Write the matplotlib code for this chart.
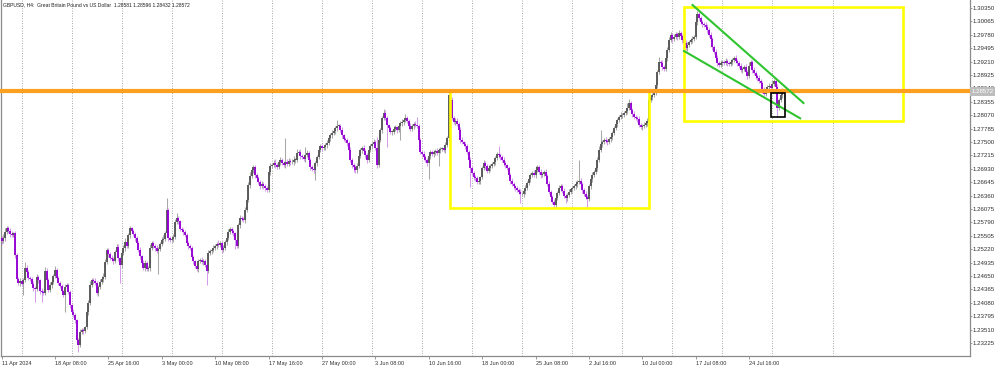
import matplotlib
matplotlib.use("Agg")
import matplotlib.pyplot as plt
from matplotlib.patches import Rectangle
import numpy as np

plt.rcParams['font.family'] = ['Liberation Sans', 'DejaVu Sans']

# ---------------- data (GBPUSD H4 closes) ----------------
first_open = 1.2545
close = [
 1.2539,1.2546, 1.2559,1.2567, 1.2561,1.2554, 1.2552,1.2556, 1.2510,1.2459,
 1.2450,1.2454, 1.2448,1.2456, 1.2482,1.2473, 1.2461,1.2459, 1.2448,1.2439,
 1.2437,1.2463, 1.2456,1.2433, 1.2431,1.2429, 1.2476,1.2456, 1.2435,1.2446,
 1.2452,1.2465, 1.2478,1.2461, 1.2450,1.2444, 1.2433,1.2425, 1.2442,1.2446,
 1.2431,1.2403, 1.2388,1.2382, 1.2371,1.2329, 1.2318,1.2346, 1.2350,1.2348,
 1.2356,1.2388, 1.2408,1.2446, 1.2456,1.2454, 1.2450,1.2429, 1.2442,1.2452,
 1.2459,1.2463, 1.2495,1.2520, 1.2512,1.2503, 1.2501,1.2497, 1.2516,1.2527,
 1.2503,1.2488, 1.2514,1.2525, 1.2537,1.2529, 1.2552,1.2567, 1.2561,1.2554,
 1.2546,1.2535, 1.2520,1.2507, 1.2493,1.2482, 1.2493,1.2480, 1.2482,1.2525,
 1.2535,1.2529, 1.2525,1.2518, 1.2522,1.2533, 1.2542,1.2544, 1.2556,1.2605,
 1.2546,1.2542, 1.2544,1.2548, 1.2580,1.2588, 1.2582,1.2565, 1.2563,1.2559,
 1.2552,1.2535, 1.2529,1.2525, 1.2505,1.2497, 1.2486,1.2480, 1.2497,1.2499,
 1.2495,1.2497, 1.2488,1.2476, 1.2514,1.2518, 1.2520,1.2525, 1.2529,1.2533,
 1.2531,1.2535, 1.2520,1.2525, 1.2537,1.2546, 1.2559,1.2565, 1.2561,1.2556,
 1.2542,1.2529, 1.2573,1.2588, 1.2586,1.2584, 1.2605,1.2627, 1.2659,1.2678,
 1.2690,1.2697, 1.2680,1.2673, 1.2665,1.2656, 1.2661,1.2656, 1.2652,1.2648,
 1.2686,1.2699, 1.2701,1.2705, 1.2701,1.2697, 1.2707,1.2712, 1.2705,1.2701,
 1.2707,1.2703, 1.2710,1.2707, 1.2707,1.2712, 1.2712,1.2727, 1.2729,1.2720,
 1.2718,1.2714, 1.2722,1.2727, 1.2712,1.2697, 1.2693,1.2690, 1.2705,1.2718,
 1.2733,1.2741, 1.2737,1.2739, 1.2744,1.2748, 1.2758,1.2765, 1.2769,1.2773,
 1.2780,1.2784, 1.2784,1.2776, 1.2765,1.2756, 1.2754,1.2748, 1.2733,1.2712,
 1.2701,1.2697, 1.2690,1.2699, 1.2720,1.2733, 1.2737,1.2731, 1.2722,1.2712,
 1.2733,1.2741, 1.2746,1.2750, 1.2737,1.2701, 1.2754,1.2776, 1.2801,1.2812,
 1.2801,1.2786, 1.2780,1.2771, 1.2771,1.2778, 1.2782,1.2776, 1.2784,1.2790,
 1.2793,1.2797, 1.2801,1.2795, 1.2784,1.2778, 1.2784,1.2788, 1.2786,1.2784,
 1.2754,1.2729, 1.2724,1.2718, 1.2712,1.2705, 1.2720,1.2729, 1.2724,1.2729,
 1.2731,1.2727, 1.2733,1.2735, 1.2737,1.2733, 1.2744,1.2758, 1.2850,1.2839,
 1.2801,1.2793, 1.2795,1.2788, 1.2776,1.2754, 1.2750,1.2746, 1.2741,1.2729,
 1.2712,1.2695, 1.2684,1.2675, 1.2673,1.2665, 1.2667,1.2675, 1.2695,1.2705,
 1.2699,1.2688, 1.2695,1.2699, 1.2703,1.2707, 1.2716,1.2724, 1.2722,1.2718,
 1.2712,1.2705, 1.2701,1.2695, 1.2680,1.2667, 1.2661,1.2656, 1.2652,1.2648,
 1.2644,1.2639, 1.2639,1.2646, 1.2652,1.2663, 1.2671,1.2680, 1.2684,1.2680,
 1.2690,1.2697, 1.2686,1.2680, 1.2682,1.2686, 1.2678,1.2661, 1.2644,1.2633,
 1.2622,1.2616, 1.2631,1.2642, 1.2652,1.2656, 1.2646,1.2635, 1.2631,1.2637,
 1.2644,1.2650, 1.2652,1.2656, 1.2661,1.2665, 1.2667,1.2661, 1.2648,1.2639,
 1.2633,1.2629, 1.2656,1.2671, 1.2680,1.2686, 1.2695,1.2712, 1.2733,1.2746,
 1.2750,1.2754, 1.2752,1.2750, 1.2756,1.2761, 1.2769,1.2780, 1.2788,1.2797,
 1.2803,1.2807, 1.2807,1.2812, 1.2816,1.2822, 1.2833,1.2818, 1.2810,1.2803,
 1.2801,1.2799, 1.2786,1.2782, 1.2784,1.2786, 1.2790,1.2795, 1.2839,1.2846,
 1.2850,1.2854, 1.2871,1.2899, 1.2920,1.2918, 1.2909,1.2905, 1.2929,1.2946,
 1.2967,1.2978, 1.2969,1.2973, 1.2980,1.2973, 1.2982,1.2975, 1.2967,1.2961,
 1.2950,1.2956, 1.2963,1.2967, 1.2969,1.2973, 1.3005,1.3022, 1.3014,1.3005,
 1.3001,1.2999, 1.2995,1.2988, 1.2978,1.2969, 1.2952,1.2941, 1.2929,1.2918,
 1.2914,1.2918, 1.2920,1.2918, 1.2922,1.2918, 1.2916,1.2920, 1.2924,1.2929,
 1.2922,1.2918, 1.2912,1.2903, 1.2905,1.2909, 1.2899,1.2890, 1.2912,1.2920,
 1.2903,1.2897, 1.2890,1.2886, 1.2880,1.2875, 1.2861,1.2852, 1.2863,1.2867,
 1.2869,1.2865, 1.2873,1.2880, 1.2867,1.2822, 1.2839,1.2850, 1.2858,1.2857,
]

# wick lengths beyond the body, in pips (0.0001)
wick_up = [
 6,8, 9,5, 4,6, 7,3, 5,4, 3,6, 5,4, 12,6, 4,5, 3,7,
 4,6, 5,3, 6,4, 8,5, 4,6, 7,5, 9,4, 3,5, 4,3, 6,5,
 5,4, 3,6, 4,3, 5,6, 4,5, 3,4, 6,8, 5,4, 7,5, 4,6,
 5,8, 6,4, 5,3, 7,4, 4,6, 5,3, 6,5, 9,6, 4,5, 3,4,
 5,3, 4,6, 3,5, 6,4, 4,7, 5,4, 3,6, 5,4, 6,8, 5,25,
 4,5, 3,6, 7,12, 5,3, 4,5, 3,4, 5,3, 4,5, 3,6, 5,4,
 6,4, 5,3, 7,5, 4,6, 3,5, 8,4, 5,6, 4,7, 6,5, 5,4,
 3,6, 5,7, 4,5, 6,4, 5,8, 6,5, 4,3, 5,4, 6,3, 4,5,
 5,7, 4,6, 8,4, 5,6, 4,5, 51,6, 5,4, 6,8, 5,9, 4,6,
 5,4, 17,5, 4,3, 5,6, 4,5, 6,4, 5,3, 4,6, 5,4, 6,5,
 4,13, 5,4, 6,3, 4,5, 5,6, 3,4, 5,6, 7,5, 4,6, 5,4,
 6,5, 4,7, 5,23, 6,4, 5,8, 6,4, 3,5, 4,6, 5,3, 4,5,
 6,4, 8,5, 4,6, 5,4, 6,17, 5,4, 3,6, 4,5, 6,4, 5,3,
 4,6, 5,4, 3,5, 6,4, 6,5, 7,4, 5,6, 4,5, 6,3, 5,4,
 4,6, 3,5, 5,4, 6,3, 4,7, 5,4, 6,5, 4,6, 5,4, 17,5,
 4,6, 5,3, 4,5, 6,4, 3,5, 4,6, 5,4, 6,5, 4,3, 5,6,
 9,4, 5,6, 4,5, 6,4, 5,3, 4,6, 5,4, 6,5, 4,6, 5,4,
 6,3, 4,5, 5,4, 45,6, 4,5, 6,4, 5,3, 6,5, 4,6, 8,30,
 5,4, 6,5, 4,6, 5,4, 6,5, 4,6, 5,4, 6,11, 8,4, 5,6,
 4,5, 6,4, 5,6, 4,5, 6,5, 4,6, 8,5, 10,4, 6,5, 5,6,
 6,5, 4,6, 5,4, 6,5, 4,3, 5,6, 4,5, 6,4, 5,6, 4,5,
 5,4, 6,5, 4,6, 5,4, 6,5, 4,6, 5,4, 6,5, 4,6, 5,4,
 6,5, 4,6, 5,4, 6,5, 8,4, 5,6, 4,5, 6,4, 5,6, 4,5,
 6,5, 8,4, 5,6, 4,5, 6,2,
]
wick_dn = [
 5,4, 6,5, 4,6, 5,4, 6,5, 4,6, 5,23, 4,6, 5,4, 6,5,
 28,4, 5,6, 21,5, 4,6, 5,4, 6,5, 4,6, 5,4, 6,5, 36,4,
 5,6, 4,5, 6,8, 15,5, 4,6, 5,4, 6,5, 4,6, 5,4, 6,5,
 4,6, 5,4, 6,5, 4,6, 5,4, 6,38, 5,4, 6,5, 4,6, 5,4,
 6,5, 4,6, 5,4, 6,5, 4,6, 5,4, 6,5, 49,4, 5,6, 4,5,
 6,4, 5,6, 4,5, 6,4, 5,6, 4,5, 6,4, 5,6, 4,5, 6,4,
 5,6, 4,30, 5,4, 6,5, 4,6, 5,4, 6,5, 4,6, 5,4, 6,5,
 19,4, 5,6, 4,5, 6,4, 5,6, 4,5, 6,4, 5,6, 4,5, 6,4,
 5,6, 4,5, 6,4, 5,6, 4,5, 6,4, 5,6, 4,5, 6,4, 5,6,
 4,5, 6,4, 5,6, 4,5, 20,6, 4,5, 6,4, 5,6, 4,5, 6,4,
 5,6, 4,5, 6,4, 5,6, 4,5, 6,11, 5,6, 4,5, 6,4, 5,6,
 4,5, 6,4, 5,6, 4,5, 6,4, 5,47, 4,5, 6,4, 5,6, 4,30,
 5,6, 4,5, 6,4, 5,6, 4,5, 6,4, 5,6, 4,5, 34,6, 4,5,
 6,4, 28,6, 4,5, 6,4, 5,6, 4,5, 6,4, 5,6, 4,5, 6,4,
 5,40, 4,5, 6,4, 5,6, 4,5, 6,4, 5,6, 4,5, 6,4, 5,6,
 4,5, 6,4, 5,6, 4,5, 6,4, 5,19, 4,5, 6,4, 5,6, 4,5,
 6,4, 5,6, 4,5, 6,4, 5,6, 4,5, 6,4, 5,6, 4,5, 10,6,
 4,5, 6,4, 5,6, 4,5, 6,4, 5,17, 4,5, 6,4, 5,6, 4,5,
 6,4, 5,6, 4,5, 6,4, 5,6, 4,5, 6,4, 5,6, 4,5, 6,4,
 5,6, 4,5, 6,4, 5,6, 4,5, 6,4, 5,6, 4,5, 6,4, 5,6,
 4,5, 6,4, 5,6, 4,5, 6,4, 5,6, 4,5, 6,4, 5,6, 4,5,
 6,4, 5,6, 4,5, 6,4, 5,6, 4,5, 6,4, 5,6, 4,5, 6,4,
 5,6, 4,5, 6,4, 5,6, 4,5, 6,4, 5,6, 4,5, 6,4, 5,6,
 4,5, 6,4, 5,19, 4,5, 6,14,
]

time_labels = ['11 Apr 2024', '18 Apr 08:00', '25 Apr 16:00', '3 May 00:00',
               '10 May 08:00', '17 May 16:00', '27 May 00:00', '3 Jun 08:00',
               '10 Jun 16:00', '18 Jun 00:00', '25 Jun 08:00', '2 Jul 16:00',
               '10 Jul 00:00', '17 Jul 08:00', '24 Jul 16:00']
price_labels = [1.30350, 1.30065, 1.29780, 1.29495, 1.29210, 1.28925, 1.28640,
                1.28355, 1.28070, 1.27785, 1.27500, 1.27215, 1.26930, 1.26645,
                1.26360, 1.26075, 1.25790, 1.25505, 1.25220, 1.24935, 1.24650,
                1.24365, 1.24080, 1.23795, 1.23510, 1.23225]
title = "GBPUSD, H4:  Great Britain Pound vs US Dollar  1.28581 1.28596 1.28432 1.28572"
last_price = 1.28572
hline_price = 1.2859

# ---------------- figure ----------------
W, H = 1000, 366
fig = plt.figure(figsize=(W / 100, H / 100), dpi=100)
ax_l, ax_r, ax_b = 1, 970, 356
ax = fig.add_axes([ax_l / W, 1 - ax_b / H, (ax_r - ax_l) / W, ax_b / H])

n = min(len(close), len(wick_up), len(wick_dn))
c = np.array(close[:n])
o = np.concatenate([[first_open], c[:-1]])
hi = np.maximum(o, c) + np.array(wick_up[:n]) * 1e-4
lo = np.minimum(o, c) - np.array(wick_dn[:n]) * 1e-4
x = np.arange(n)
up = c >= o

bull_body, bull_wick = '#555555', '#a8a8a8'
bear_body, bear_wick = '#9400d3', '#d59ceb'

ax.vlines(x[up], lo[up], hi[up], color=bull_wick, lw=0.75, zorder=2)
ax.vlines(x[~up], lo[~up], hi[~up], color=bear_wick, lw=0.75, zorder=2)
bt = np.maximum(o, c)
bb = np.minimum(o, c)
tiny = bt - bb < 0.00014
bt = np.where(tiny, bb + 0.00014, bt)
ax.vlines(x[up], bb[up], bt[up], color=bull_body, lw=1.35, zorder=3)
ax.vlines(x[~up], bb[~up], bt[~up], color=bear_body, lw=1.35, zorder=3)

# scales
px_per_bar = 53.4 / 32
x0 = -0.3
ax.set_xlim(x0, x0 + (ax_r - ax_l) / px_per_bar)
p_per_px = 0.00285 / 13.4
top_price = 1.30520
ax.set_ylim(top_price - ax_b * p_per_px, top_price)

# vertical dotted grid
grid_idx = list(range(12, 470, 30)) + [498]
for g in grid_idx:
    ax.axvline(g, color='#8c8c8c', lw=0.6, ls=(0, (1, 2)), zorder=1)

# drawn objects
ax.axhline(hline_price, color='#ff9f1f', lw=3.0, zorder=6, clip_on=False)
rect1 = Rectangle((268.8, 1.2609), 388.0 - 268.8, 1.2860 - 1.2609,
                  fill=False, ec='#ffff00', lw=1.9, zorder=5)
rect2 = Rectangle((409.0, 1.2795), 540.0 - 409.0, 1.3038 - 1.2795,
                  fill=False, ec='#ffff00', lw=1.9, zorder=5)
ax.add_patch(rect1)
ax.add_patch(rect2)
ax.plot([414.1, 480.6], [1.30414, 1.28329], color='#2fc42f', lw=1.5, zorder=7)
ax.plot([409.0, 478.6], [1.29435, 1.28004], color='#2fc42f', lw=1.5, zorder=7)
ax.add_patch(Rectangle((461.0, 1.28025), 8.4, 1.28535 - 1.28025,
                       fill=False, ec='black', lw=1.2, zorder=8))

# axes styling
ax.spines['top'].set_visible(False)
for s in ['left', 'right', 'bottom']:
    ax.spines[s].set_color('#8a8a8a')
    ax.spines[s].set_linewidth(0.9)

ax.yaxis.tick_right()
ax.set_yticks(price_labels)
ax.set_yticklabels([f'{v:.5f}' for v in price_labels])
ax.tick_params(axis='y', direction='out', length=1.5, width=0.6, colors='#8a8a8a',
               labelcolor='#303030', labelsize=4.4, pad=0.6)

tick_idx = [32 * k for k in range(len(time_labels))]
ax.set_xticks(tick_idx)
ax.set_xticklabels(time_labels)
for lab in ax.get_xticklabels():
    lab.set_horizontalalignment('left')
ax.tick_params(axis='x', direction='out', length=2.5, width=0.6, colors='#8a8a8a',
               labelcolor='#303030', labelsize=4.0, pad=0.8)

# current price box (drawn over the grid label it covers, as in the terminal)
ax.text(1.0015, last_price, f'{last_price:.5f}', transform=ax.get_yaxis_transform(),
        fontsize=4.4, color='white', va='center', ha='left', zorder=10,
        bbox=dict(boxstyle='square,pad=0.3', fc='#bdbdbd', ec='none'), clip_on=False)

fig.text(3 / W, 1 - 5 / H, title, fontsize=3.6, color='#202020', va='center', ha='left')

fig.savefig('out.png', dpi=100)
